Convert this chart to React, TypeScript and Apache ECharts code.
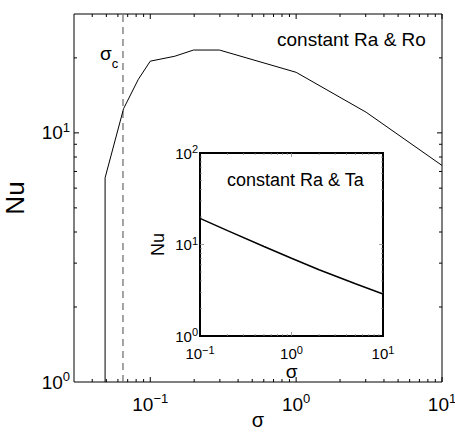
import React, { useEffect, useRef } from 'react';
import * as echarts from 'echarts';

// ---- data ----
const mainSigma = [0.049, 0.049, 0.0656, 0.0828, 0.1, 0.147, 0.198, 0.298, 1.0, 3.02, 10];
const mainNu = [1, 6.6, 12.5, 16.4, 19.4, 20.3, 21.5, 21.5, 17.5, 12.1, 7.4];
const sigmaC = 0.065;
const insetSigma = [0.1, 0.2, 0.5, 1, 2, 5, 10];
const insetNu = [19.3, 14.2, 9.5, 7.07, 5.3, 3.72, 2.88];

const mainXRange = [0.03, 10];
const mainYRange = [1, 30];
const insetXRange = [0.1, 10];
const insetYRange = [1, 100];

const mainXMajor = [0.1, 1, 10];
const mainXMinor = [0.04, 0.05, 0.06, 0.07, 0.08, 0.09, 0.2, 0.3, 0.4, 0.5, 0.6, 0.7, 0.8, 0.9, 2, 3, 4, 5, 6, 7, 8, 9];
const mainYMajor = [10];
const mainYMinor = [2, 3, 4, 5, 6, 7, 8, 9, 20];
const insetXMajor = [1];
const insetXMinor = [0.2, 0.3, 0.4, 0.5, 0.6, 0.7, 0.8, 0.9, 2, 3, 4, 5, 6, 7, 8, 9];
const insetYMajor = [10];
const insetYMinor = [2, 3, 4, 5, 6, 7, 8, 9, 20, 30, 40, 50, 60, 70, 80, 90];

const FONT = '"Liberation Sans", Arial, Helvetica, sans-serif';

const powFmt = (v: number) => {
  const l = Math.log10(v);
  const e = Math.round(l);
  if (Math.abs(l - e) > 1e-6) return '';
  return `{b|10}{s|${e < 0 ? '\u2212' + -e : e}}`;
};

function tickData(xMajor: number[], xMinor: number[], yMajor: number[], yMinor: number[], xmin: number, ymin: number, majLen: number, minLen: number) {
  const d: number[][] = [];
  xMajor.forEach((v) => d.push([v, ymin, 0, majLen]));
  xMinor.forEach((v) => d.push([v, ymin, 0, minLen]));
  yMajor.forEach((v) => d.push([xmin, v, 1, majLen]));
  yMinor.forEach((v) => d.push([xmin, v, 1, minLen]));
  return d;
}

function tickSeries(idx: number, data: number[][], color: string, width: number) {
  return {
    type: 'custom',
    xAxisIndex: idx,
    yAxisIndex: idx,
    silent: true,
    clip: false,
    z: 10,
    encode: { x: 0, y: 1 },
    data,
    renderItem: (params: any, api: any) => {
      const cs = params.coordSys;
      const kind = api.value(2);
      const len = api.value(3);
      const p = api.coord([api.value(0), api.value(1)]);
      const st = { stroke: color, lineWidth: width };
      if (kind === 0) {
        const x = p[0];
        return {
          type: 'group',
          children: [
            { type: 'line', shape: { x1: x, y1: cs.y + cs.height, x2: x, y2: cs.y + cs.height - len }, style: st },
            { type: 'line', shape: { x1: x, y1: cs.y, x2: x, y2: cs.y + len }, style: st },
          ],
        };
      }
      const y = p[1];
      return {
        type: 'group',
        children: [
          { type: 'line', shape: { x1: cs.x, y1: y, x2: cs.x + len, y2: y }, style: st },
          { type: 'line', shape: { x1: cs.x + cs.width, y1: y, x2: cs.x + cs.width - len, y2: y }, style: st },
        ],
      };
    },
  };
}

export default function App() {
  const ref = useRef<HTMLDivElement>(null);
  useEffect(() => {
    if (!ref.current) return;
    const chart = echarts.init(ref.current, undefined, { renderer: 'svg' });
    const mainRich = {
      b: { fontSize: 19, fontFamily: FONT, color: '#000', lineHeight: 24 },
      s: { fontSize: 13, fontFamily: FONT, color: '#000', lineHeight: 13, verticalAlign: 'top' },
    };
    const insetRich = {
      b: { fontSize: 15, fontFamily: FONT, color: '#000', lineHeight: 19 },
      s: { fontSize: 11, fontFamily: FONT, color: '#000', lineHeight: 11, verticalAlign: 'top' },
    };
    const baseAxis = {
      type: 'log',
      logBase: 10,
      axisLine: { show: false },
      axisTick: { show: false },
      splitLine: { show: false },
      minorTick: { show: false },
      nameLocation: 'middle',
      nameMoveOverlap: false,
    };
    chart.setOption({
      animation: false,
      backgroundColor: '#fff',
      grid: [
        { left: 74, top: 14, width: 368, height: 368, show: true, borderColor: '#000', borderWidth: 1, backgroundColor: 'transparent', containLabel: false, outerBoundsMode: 'none' },
        { left: 200, top: 153, width: 183, height: 183, show: true, borderColor: '#000', borderWidth: 2, backgroundColor: '#fff', containLabel: false, outerBoundsMode: 'none' },
      ],
      xAxis: [
        {
          ...baseAxis,
          gridIndex: 0,
          min: mainXRange[0],
          max: mainXRange[1],
          name: 'σ',
          nameGap: 28,
          nameTextStyle: { fontSize: 20, lineHeight: 20, fontFamily: FONT, color: '#000' },
          axisLabel: { interval: 0, margin: 10, formatter: powFmt, rich: mainRich },
        },
        {
          ...baseAxis,
          gridIndex: 1,
          min: insetXRange[0],
          max: insetXRange[1],
          name: 'σ',
          nameGap: 26,
          nameTextStyle: { fontSize: 19, lineHeight: 19, fontFamily: FONT, color: '#000' },
          axisLabel: { interval: 0, margin: 8, formatter: powFmt, rich: insetRich },
        },
      ],
      yAxis: [
        {
          ...baseAxis,
          gridIndex: 0,
          min: mainYRange[0],
          max: mainYRange[1],
          name: 'Nu',
          nameGap: 46,
          nameTextStyle: { fontSize: 26, fontFamily: FONT, color: '#000' },
          axisLabel: { interval: 0, margin: 4, formatter: powFmt, rich: mainRich },
        },
        {
          ...baseAxis,
          gridIndex: 1,
          min: insetYRange[0],
          max: insetYRange[1],
          name: 'Nu',
          nameGap: 33,
          nameTextStyle: { fontSize: 18, fontFamily: FONT, color: '#000' },
          axisLabel: { interval: 0, margin: 2, formatter: powFmt, rich: insetRich },
        },
      ],
      series: [
        {
          type: 'line',
          xAxisIndex: 0,
          yAxisIndex: 0,
          data: mainSigma.map((s, i) => [s, mainNu[i]]),
          showSymbol: false,
          lineStyle: { color: '#000', width: 1 },
          z: 5,
        },
        {
          type: 'line',
          xAxisIndex: 0,
          yAxisIndex: 0,
          data: [[sigmaC, mainYRange[0]], [sigmaC, mainYRange[1]]],
          showSymbol: false,
          lineStyle: { color: '#666', width: 1.2, type: [7, 5] },
          z: 4,
        },
        {
          type: 'line',
          xAxisIndex: 1,
          yAxisIndex: 1,
          data: insetSigma.map((s, i) => [s, insetNu[i]]),
          showSymbol: false,
          lineStyle: { color: '#000', width: 1.5 },
          z: 5,
        },
        tickSeries(0, tickData(mainXMajor, mainXMinor, mainYMajor, mainYMinor, mainXRange[0], mainYRange[0], 5, 3), '#000', 1),
        tickSeries(1, tickData(insetXMajor, insetXMinor, insetYMajor, insetYMinor, insetXRange[0], insetYRange[0], 4, 2), '#888', 0.8),
      ],
      graphic: [
        {
          type: 'text',
          x: 100,
          y: 53,
          z: 20,
          style: {
            text: '{a|σ}{c|c}',
            verticalAlign: 'middle',
            rich: {
              a: { fontSize: 19, fontFamily: FONT, fill: '#000', lineHeight: 22 },
              c: { fontSize: 13, fontFamily: FONT, fill: '#000', lineHeight: 13, verticalAlign: 'bottom', padding: [0, 0, -6, 0] },
            },
          },
        },
        {
          type: 'text',
          x: 277,
          y: 39,
          z: 20,
          style: { text: 'constant Ra & Ro', fontSize: 19, fontFamily: FONT, fill: '#000', verticalAlign: 'middle' },
        },
        {
          type: 'text',
          x: 227,
          y: 180,
          z: 20,
          style: { text: 'constant Ra & Ta', fontSize: 18, fontFamily: FONT, fill: '#000', verticalAlign: 'middle' },
        },
      ],
    });
    return () => chart.dispose();
  }, []);
  return <div ref={ref} style={{ width: 455, height: 435, position: 'absolute', left: 0, top: 0 }} />;
}
